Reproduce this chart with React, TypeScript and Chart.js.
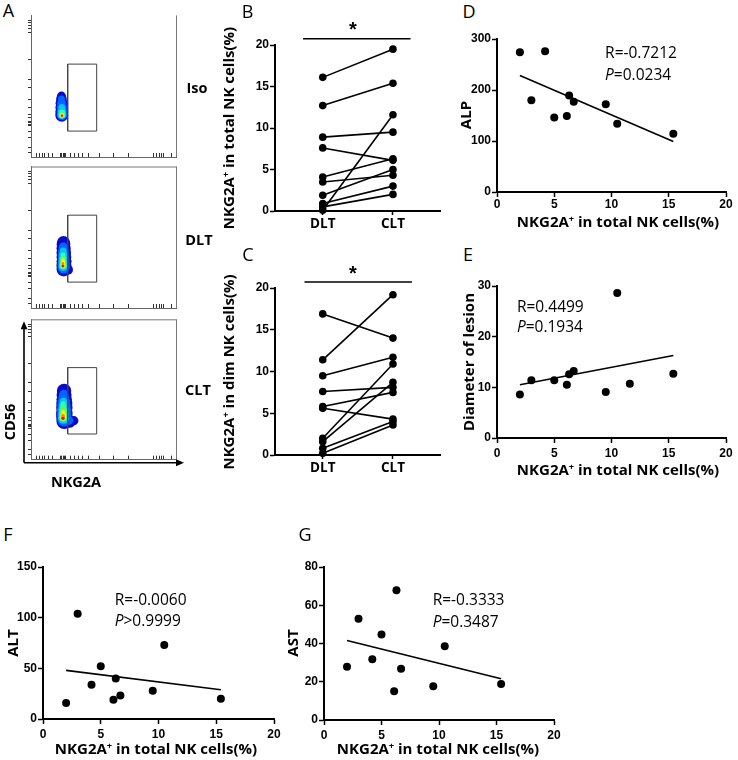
import React, { useEffect, useRef } from "react";
import { Chart, registerables } from "chart.js";
Chart.register(...registerables);

// ---------------- DATA ----------------
const PAIR_LABELS = ["DLT", "CLT"];

// Panel B: NKG2A+ in total NK cells (%), paired DLT -> CLT
const B_DLT = [16.1, 12.7, 8.9, 7.6, 4.1, 3.5, 1.9, 0.9, 0.5, 0.1];
const B_CLT = [19.5, 15.4, 9.5, 6.1, 6.3, 4.3, 5.0, 3.0, 2.0, 11.6];

// Panel C: NKG2A+ in dim NK cells (%), paired DLT -> CLT
const C_DLT = [16.9, 11.4, 9.5, 7.6, 5.8, 5.6, 2.0, 1.6, 0.8, 0.2];
const C_CLT = [14.0, 19.2, 11.7, 8.1, 7.5, 4.3, 10.9, 8.7, 4.0, 3.6];

const SIG_MARK = "*";

// Correlation panels (x = NKG2A+ in total NK cells, %)
const D_X = [2.0, 3.0, 4.2, 5.0, 6.1, 6.3, 6.7, 9.5, 10.5, 15.4];
const D_ALP = [274, 180, 276, 146, 149, 189, 177, 172, 134, 114];
const D_FIT = [228.6, 99.0];
const D_STAT = ["R=-0.7212", "P", "=0.0234"];

const E_X = [2.0, 3.0, 5.0, 6.1, 6.3, 6.7, 9.5, 10.5, 11.6, 15.4];
const E_DIAM = [8.6, 11.4, 11.4, 10.5, 12.6, 13.2, 9.1, 28.6, 10.7, 12.7];
const E_FIT = [10.5, 16.3];
const E_STAT = ["R=0.4499", "P", "=0.1934"];

const F_X = [2.0, 3.0, 4.2, 5.0, 6.1, 6.3, 6.7, 9.5, 10.5, 15.4];
const F_ALT = [15.7, 103.8, 33.7, 52.0, 19.0, 40.0, 23.3, 27.8, 73.0, 20.0];
const F_FIT = [48.0, 28.8];
const F_STAT = ["R=-0.0060", "P", ">0.9999"];

const G_X = [2.0, 3.0, 4.2, 5.0, 6.1, 6.3, 6.7, 9.5, 10.5, 15.4];
const G_AST = [27.8, 53.0, 31.7, 44.7, 15.0, 67.8, 26.8, 17.7, 38.6, 18.8];
const G_FIT = [41.6, 21.6];
const G_STAT = ["R=-0.3333", "P", "=0.3487"];

const FIT_X = [2.0, 15.4];

// Flow cytometry (panel A): axis tick values (display units 0-100)
const FLOW_X_TICKS = [3.9, 5.8, 7.6, 9.5, 12.2, 15, 20.3, 21.2, 22.2, 23.1, 24, 27.5, 30.3, 33, 35.8, 39.5, 47.3, 56.6, 67, 84.3, 86.6, 88.5, 90.3, 91.2, 97];
const FLOW_Y_TICKS = [3.5, 7, 13.5, 18.1, 22.3, 23.3, 24.2, 25.1, 27.9, 30.2, 34.9, 40.7, 48.8, 54.7, 68.6, 87.9, 90.7, 93, 94.9, 96.5];
const GATE_X = [25.3, 45.3, 45.3, 25.3, 25.3];
const GATE_Y = [18.3, 18.3, 65.6, 65.6, 18.3];
const DENSITY_COLORS = ["#ff0000", "#ff8a00", "#ffff00", "#3cff8c", "#00c8ff", "#0064ff", "#0a0ac8"];
// blob layers [x, y, r] ordered red (densest) -> dark blue (outer)
const ISO_BLOB = [
  [[21.4, 29.2, 1.0]],
  [[21.4, 29.3, 1.6]],
  [[21.4, 29.5, 2.3]],
  [[21.4, 29.7, 3.3], [21.4, 31.5, 2.9]],
  [[21.3, 29.8, 4.3], [21.3, 32, 4.1], [21.3, 35, 3.5]],
  [[21.3, 29.8, 5.3], [21.3, 32, 5.2], [21.2, 35, 5.0], [21.1, 38, 4.4], [21.0, 41, 3.5]],
  [[21.2, 29.5, 6.4], [21.2, 32, 6.4], [21.2, 35, 6.3], [21.1, 38, 6.0], [21.0, 41, 5.3], [21.0, 43, 4.5]],
];
const DLT_BLOB = [
  [[22, 29.7, 1.2]],
  [[22, 29.8, 1.8], [22, 31.5, 1.4]],
  [[22.1, 30, 2.5], [22.1, 32, 2.2], [22.1, 34, 1.8]],
  [[22.2, 30, 3.6], [22.2, 32.5, 3.4], [22.2, 35, 3.0], [22.1, 37.5, 2.4]],
  [[22.3, 29.5, 4.8], [22.3, 32, 4.8], [22.3, 35, 4.5], [22.2, 38, 4.0], [22.2, 40.5, 3.3]],
  [[22.5, 28.5, 6.0], [22.5, 31, 6.1], [22.5, 34, 6.0], [22.4, 37, 5.8], [22.4, 40, 5.4], [22.3, 43, 4.6]],
  [[22.6, 27.5, 7.3], [22.7, 30, 7.5], [22.8, 33, 7.5], [22.7, 36, 7.4], [22.6, 39, 7.3], [22.5, 42, 7.1], [22.4, 45, 6.8], [22.4, 46.5, 6.3], [25.5, 27, 5.0]],
];
const CLT_BLOB = [
  [[22, 29.6, 1.5]],
  [[22.1, 29.8, 2.2], [22.1, 31.5, 1.8]],
  [[22.2, 30, 3.0], [22.2, 32, 2.6], [22.2, 34, 2.1]],
  [[22.3, 30, 4.2], [22.3, 32.5, 4.0], [22.3, 35, 3.8], [22.2, 38, 3.0], [22.2, 40, 2.3]],
  [[22.5, 29.5, 5.5], [22.5, 32.5, 5.5], [22.5, 36, 5.2], [22.4, 39, 4.6], [22.4, 41.5, 3.8]],
  [[22.8, 28.5, 6.8], [22.8, 31.5, 7.0], [22.8, 35, 7.0], [22.7, 38, 6.7], [22.7, 41, 6.2], [22.6, 44, 5.4], [22.6, 46.5, 4.6], [26, 28, 4.5]],
  [[23, 27.5, 8.0], [23, 30.5, 8.2], [23, 33.5, 8.3], [23, 37, 8.2], [23, 40, 8.0], [22.9, 43, 7.7], [22.8, 46, 7.5], [22.8, 49, 7.2], [26.5, 27.2, 6.3], [29.5, 27.8, 4.6]],
];

// ---------------- STYLE ----------------
const OPEN = "'Open Sans', 'Noto Sans', sans-serif";
const ARIAL = "'Liberation Sans', Arial, sans-serif";
const TICK_FONT = { family: ARIAL, size: 12, weight: "bold" as const };

type M = { l: number; t: number; r: number; b: number };
type Area = { x0: number; y0: number; x1: number; y1: number };

const dataTextPlugin = {
  id: "dataText",
  afterDatasetsDraw(chart: any, _a: any, opts: any) {
    const items = (opts && opts.items) || [];
    const ctx = chart.ctx;
    const xs = chart.scales.x;
    const ys = chart.scales.y;
    ctx.save();
    ctx.fillStyle = "#000";
    ctx.textBaseline = "middle";
    ctx.textAlign = "left";
    for (const it of items) {
      const fontOf = (p: any) => `${p.italic ? "italic " : ""}${it.weight || "normal"} ${it.size}px ${it.family}`;
      let total = 0;
      for (const p of it.parts) {
        ctx.font = fontOf(p);
        total += ctx.measureText(p.text).width;
      }
      let px = xs.getPixelForValue(it.x);
      if (it.center) px -= total / 2;
      const py = ys.getPixelForValue(it.y);
      for (const p of it.parts) {
        ctx.font = fontOf(p);
        ctx.fillText(p.text, px, py);
        px += ctx.measureText(p.text).width;
      }
    }
    ctx.restore();
  },
};

const flowFramePlugin = {
  id: "flowFrame",
  afterDraw(chart: any, _a: any, opts: any) {
    const { left, right, top, bottom } = chart.chartArea;
    const ctx = chart.ctx;
    ctx.save();
    ctx.strokeStyle = "#777";
    ctx.lineWidth = 1;
    ctx.beginPath();
    ctx.moveTo(right + 0.5, bottom);
    ctx.lineTo(right + 0.5, top);
    if (opts.top) {
      ctx.moveTo(left, top + 0.5);
      ctx.lineTo(right + 0.5, top + 0.5);
    }
    ctx.stroke();
    if (opts.arrows) {
      ctx.strokeStyle = "#000";
      ctx.fillStyle = "#000";
      ctx.lineWidth = 1.6;
      const ax = left - 7;
      const ay = bottom + 3;
      ctx.beginPath();
      ctx.moveTo(ax, ay);
      ctx.lineTo(ax, top + 8);
      ctx.moveTo(ax, ay);
      ctx.lineTo(right + 2, ay);
      ctx.stroke();
      ctx.beginPath();
      ctx.moveTo(ax, top + 2);
      ctx.lineTo(ax - 3.5, top + 10);
      ctx.lineTo(ax + 3.5, top + 10);
      ctx.closePath();
      ctx.fill();
      ctx.beginPath();
      ctx.moveTo(right + 8, ay);
      ctx.lineTo(right, ay - 3.5);
      ctx.lineTo(right, ay + 3.5);
      ctx.closePath();
      ctx.fill();
    }
    ctx.restore();
  },
};

function numY(min: number, max: number, step: number, m: M) {
  return {
    type: "linear",
    min,
    max,
    ticks: { stepSize: step, color: "#000", font: TICK_FONT, padding: 1 },
    grid: { drawOnChartArea: false, drawTicks: true, tickLength: 5, tickWidth: 1.5, tickColor: "#000" },
    border: { display: true, color: "#000", width: 2 },
    afterFit: (s: any) => {
      s.width = m.l;
      s.paddingTop = 0;
      s.paddingBottom = 0;
    },
  };
}

function numX(min: number, max: number, step: number, m: M, pad: number) {
  return {
    type: "linear",
    min,
    max,
    ticks: { stepSize: step, color: "#000", font: TICK_FONT, padding: pad, maxRotation: 0 },
    grid: { drawOnChartArea: false, drawTicks: true, tickLength: 5, tickWidth: 1.5, tickColor: "#000" },
    border: { display: true, color: "#000", width: 2 },
    afterFit: (s: any) => {
      s.height = m.b;
      s.paddingLeft = 0;
      s.paddingRight = 0;
    },
  };
}

const baseOptions = (m: M) => ({
  animation: false,
  responsive: false,
  devicePixelRatio: 1,
  events: [],
  layout: { padding: { left: 0, top: m.t, right: m.r, bottom: 0 } },
});

function statItems(stat: string[], x: number, yR: number, yP: number) {
  return [
    { x, y: yR, size: 15.5, family: OPEN, parts: [{ text: stat[0] }] },
    { x, y: yP, size: 15.5, family: OPEN, parts: [{ text: stat[1], italic: true }, { text: stat[2] }] },
  ];
}

function scatterConfig(
  xs: number[], ys: number[], fit: number[], yMax: number, yStep: number,
  stat: string[], statX: number, statYR: number, statYP: number, xPad: number
) {
  return (m: M) => ({
    type: "scatter",
    data: {
      datasets: [
        {
          data: xs.map((x, i) => ({ x, y: ys[i] })),
          pointRadius: 4,
          pointBackgroundColor: "#000",
          pointBorderWidth: 0,
          clip: false,
        },
        {
          data: FIT_X.map((x, i) => ({ x, y: fit[i] })),
          showLine: true,
          borderColor: "#000",
          borderWidth: 1.6,
          pointRadius: 0,
          clip: false,
        },
      ],
    },
    options: {
      ...baseOptions(m),
      plugins: {
        legend: { display: false },
        tooltip: { enabled: false },
        dataText: { items: statItems(stat, statX, statYR, statYP) },
      },
      scales: { x: numX(0, 20, 5, m, xPad), y: numY(0, yMax, yStep, m) },
    },
    plugins: [dataTextPlugin],
  });
}

function pairedConfig(dlt: number[], clt: number[], barX: number[], barY: number, starX: number, starY: number) {
  return (m: M) => ({
    type: "scatter",
    data: {
      datasets: [
        ...dlt.map((v, i) => ({
          data: [{ x: 0, y: v }, { x: 1, y: clt[i] }],
          showLine: true,
          borderColor: "#000",
          borderWidth: 1.6,
          pointRadius: 3.8,
          pointBackgroundColor: "#000",
          pointBorderWidth: 0,
          clip: false,
        })),
        {
          data: barX.map((x) => ({ x, y: barY })),
          showLine: true,
          borderColor: "#000",
          borderWidth: 1.6,
          pointRadius: 0,
          clip: false,
        },
      ],
    },
    options: {
      ...baseOptions(m),
      plugins: {
        legend: { display: false },
        tooltip: { enabled: false },
        dataText: {
          items: [{ x: starX, y: starY, size: 20, weight: "bold", family: ARIAL, center: true, parts: [{ text: SIG_MARK }] }],
        },
      },
      scales: {
        x: {
          type: "linear",
          min: -0.68,
          max: 1.67,
          afterBuildTicks: (s: any) => {
            s.ticks = PAIR_LABELS.map((_l, i) => ({ value: i }));
          },
          ticks: {
            autoSkip: false,
            maxRotation: 0,
            color: "#000",
            font: { family: OPEN, size: 13.5, weight: "bold" },
            padding: 1,
            callback: (_v: any, i: number) => PAIR_LABELS[i],
          },
          grid: { drawOnChartArea: false, tickLength: 4, tickWidth: 1.5, tickColor: "#000" },
          border: { display: true, color: "#000", width: 2 },
          afterFit: (s: any) => {
            s.height = m.b;
            s.paddingLeft = 0;
            s.paddingRight = 0;
          },
        },
        y: numY(0, 20, 5, m),
      },
    },
    plugins: [dataTextPlugin],
  });
}

function flowConfig(blob: number[][][], top: boolean, arrows: boolean) {
  return (m: M) => ({
    type: "scatter",
    data: {
      datasets: [
        {
          type: "scatter",
          data: GATE_X.map((x, i) => ({ x, y: GATE_Y[i] })),
          showLine: true,
          borderColor: "#444",
          borderWidth: 1,
          pointRadius: 0,
          clip: false,
        },
        ...blob.map((layer, li) => ({
          type: "bubble",
          data: layer.map((p) => ({ x: p[0], y: p[1], r: p[2] })),
          backgroundColor: DENSITY_COLORS[li],
          borderWidth: 0,
          hoverRadius: 0,
        })),
      ],
    },
    options: {
      ...baseOptions(m),
      plugins: { legend: { display: false }, tooltip: { enabled: false }, flowFrame: { top, arrows } },
      scales: {
        x: {
          type: "linear",
          min: 0,
          max: 100,
          afterBuildTicks: (s: any) => {
            s.ticks = FLOW_X_TICKS.map((v) => ({ value: v }));
          },
          ticks: { display: false },
          grid: { drawOnChartArea: false, tickLength: -4, tickWidth: 1, tickColor: "#333" },
          border: { display: true, color: "#666", width: 1 },
          afterFit: (s: any) => {
            s.height = m.b;
            s.paddingLeft = 0;
            s.paddingRight = 0;
          },
        },
        y: {
          type: "linear",
          min: 0,
          max: 100,
          afterBuildTicks: (s: any) => {
            s.ticks = FLOW_Y_TICKS.map((v) => ({ value: v }));
          },
          ticks: { display: false },
          grid: { drawOnChartArea: false, tickLength: 3, tickWidth: 1, tickColor: "#333" },
          border: { display: true, color: "#666", width: 1 },
          afterFit: (s: any) => {
            s.width = m.l;
            s.paddingTop = 0;
            s.paddingBottom = 0;
          },
        },
      },
    },
    plugins: [flowFramePlugin],
  });
}

function ChartPanel({ area, m, build }: { area: Area; m: M; build: (m: M) => any }) {
  const ref = useRef<HTMLCanvasElement>(null);
  useEffect(() => {
    const c = new Chart(ref.current as HTMLCanvasElement, build(m));
    return () => c.destroy();
  }, []);
  const w = Math.round(area.x1 - area.x0 + m.l + m.r);
  const h = Math.round(area.y1 - area.y0 + m.t + m.b);
  return (
    <canvas
      ref={ref}
      width={w}
      height={h}
      style={{ position: "absolute", left: Math.round(area.x0 - m.l), top: Math.round(area.y0 - m.t), width: w, height: h }}
    />
  );
}

function Txt({ x, y, children, size = 15, weight = 700, rot = 0, family = OPEN }: any) {
  return (
    <div
      style={{
        position: "absolute",
        left: x,
        top: y,
        transform: `translate(-50%, -50%) rotate(${rot}deg)`,
        fontFamily: family,
        fontSize: size,
        fontWeight: weight,
        whiteSpace: "nowrap",
        lineHeight: 1.1,
        color: "#000",
      }}
    >
      {children}
    </div>
  );
}

const Plus = () => <span style={{ fontSize: "0.62em", position: "relative", top: "-0.55em" }}>+</span>;
const TotalNK = () => (
  <>
    NKG2A<Plus /> in total NK cells(%)
  </>
);

const M_PAIR: M = { l: 40, t: 42, r: 10, b: 30 };
const M_SC: M = { l: 40, t: 14, r: 12, b: 24 };
const M_FLOW: M = { l: 10, t: 4, r: 12, b: 8 };

export default function App() {
  return (
    <div style={{ position: "absolute", left: 0, top: 0, width: 738, height: 760, background: "#fff", overflow: "hidden" }}>
      {/* Panel A: flow plots */}
      <ChartPanel area={{ x0: 31, y0: 13, x1: 176, y1: 157 }} m={M_FLOW} build={flowConfig(ISO_BLOB, false, false)} />
      <ChartPanel area={{ x0: 31, y0: 163, x1: 176, y1: 308 }} m={M_FLOW} build={flowConfig(DLT_BLOB, true, false)} />
      <ChartPanel area={{ x0: 31, y0: 315, x1: 176, y1: 460 }} m={M_FLOW} build={flowConfig(CLT_BLOB, true, true)} />

      {/* Panel B and C */}
      <ChartPanel area={{ x0: 275, y0: 45, x1: 440, y1: 211 }} m={M_PAIR} build={pairedConfig(B_DLT, B_CLT, [-0.28, 1.25], 20.76, 0.43, 21.7)} />
      <ChartPanel area={{ x0: 275, y0: 288, x1: 440, y1: 455 }} m={M_PAIR} build={pairedConfig(C_DLT, C_CLT, [-0.26, 1.27], 20.72, 0.43, 21.6)} />

      {/* Panels D, E, F, G */}
      <ChartPanel area={{ x0: 497, y0: 39, x1: 726, y1: 192 }} m={M_SC} build={scatterConfig(D_X, D_ALP, D_FIT, 300, 100, D_STAT, 9.44, 272, 229, 0)} />
      <ChartPanel area={{ x0: 497, y0: 286, x1: 726, y1: 438 }} m={M_SC} build={scatterConfig(E_X, E_DIAM, E_FIT, 30, 10, E_STAT, 1.74, 25.8, 21.7, 3)} />
      <ChartPanel area={{ x0: 43, y0: 567, x1: 274, y1: 719 }} m={M_SC} build={scatterConfig(F_X, F_ALT, F_FIT, 150, 50, F_STAT, 6.21, 117, 96, 3)} />
      <ChartPanel area={{ x0: 324, y0: 567, x1: 554, y1: 720 }} m={M_SC} build={scatterConfig(G_X, G_AST, G_FIT, 80, 20, G_STAT, 9.45, 62.3, 51.1, 3)} />

      {/* Panel letters */}
      <Txt x={8.5} y={11} size={18} weight={400}>A</Txt>
      <Txt x={247.5} y={12} size={18} weight={400}>B</Txt>
      <Txt x={248} y={255} size={18} weight={400}>C</Txt>
      <Txt x={469} y={12} size={18} weight={400}>D</Txt>
      <Txt x={468} y={255} size={18} weight={400}>E</Txt>
      <Txt x={8} y={534.5} size={18} weight={400}>F</Txt>
      <Txt x={305} y={534.5} size={18} weight={400}>G</Txt>

      {/* Panel A labels */}
      <Txt x={197} y={87.5} size={14.5}>Iso</Txt>
      <Txt x={199} y={240} size={14.5}>DLT</Txt>
      <Txt x={198} y={390} size={14.5}>CLT</Txt>
      <Txt x={9.5} y={422} size={14.5} rot={-90}>CD56</Txt>
      <Txt x={76} y={482} size={14.5}>NKG2A</Txt>

      {/* Axis titles */}
      <Txt x={228} y={128} rot={-90}><TotalNK /></Txt>
      <Txt x={228} y={372} rot={-90}>
        NKG2A<Plus /> in dim NK cells(%)
      </Txt>
      <Txt x={465} y={115} rot={-90}>ALP</Txt>
      <Txt x={618} y={221}><TotalNK /></Txt>
      <Txt x={468} y={362} rot={-90}>Diameter of lesion</Txt>
      <Txt x={618} y={469}><TotalNK /></Txt>
      <Txt x={12} y={643} rot={-90}>ALT</Txt>
      <Txt x={156} y={748}><TotalNK /></Txt>
      <Txt x={292} y={643} rot={-90}>AST</Txt>
      <Txt x={438} y={748}><TotalNK /></Txt>
    </div>
  );
}
